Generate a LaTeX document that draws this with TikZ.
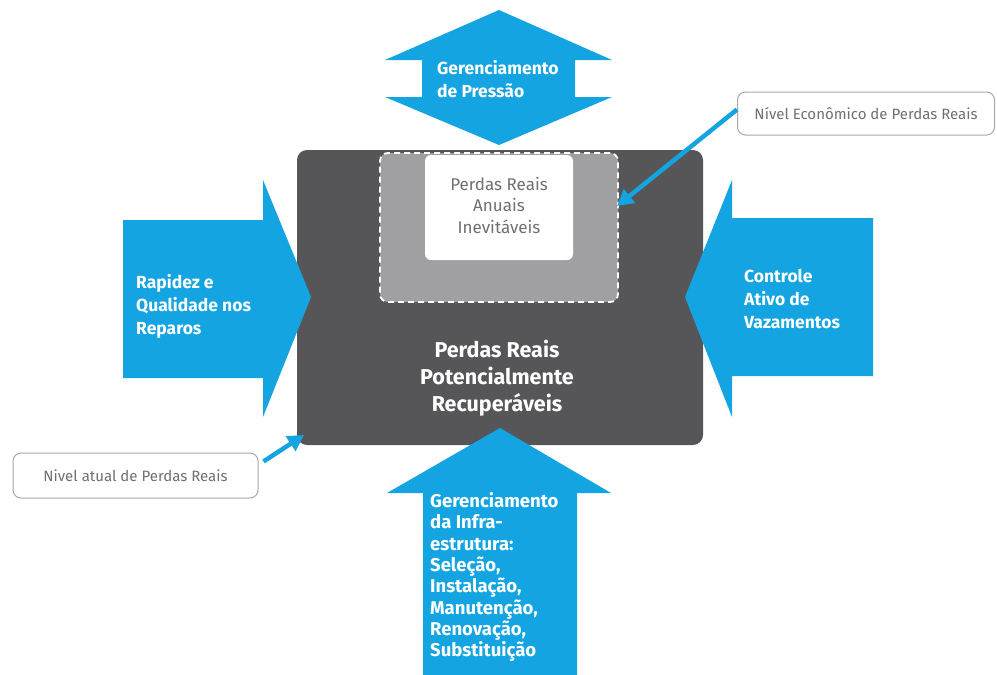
\documentclass[tikz,border=0pt]{standalone}
\usepackage{fontspec}
\setmainfont{Fira Sans}
\usetikzlibrary{positioning, arrows.meta}

\definecolor{azul}{RGB}{20,164,226}
\definecolor{escuro}{RGB}{86,86,88}
\definecolor{cinza}{RGB}{160,160,162}
\definecolor{textocinza}{RGB}{112,112,112}
\definecolor{borda}{RGB}{168,168,168}

\tikzset{
  seta/.style={fill=azul},
  rotulo/.style={text=white, font=\bfseries\fontsize{17.5}{23}\selectfont, align=left, anchor=west, inner sep=0pt},
  caixa/.style={draw=borda, line width=1pt, rounded corners=8pt, fill=white, text=textocinza, font=\fontsize{15}{17}\selectfont},
  ponteiro/.style={draw=azul, line width=4.5pt, -{Triangle[length=16pt,width=17pt]}}
}

\begin{document}
\begin{tikzpicture}[x=1pt, y=-1pt]
    \useasboundingbox (0,0) rectangle (997,675);

    % caixas centrais
    \node[fill=escuro, rounded corners=10pt, minimum width=406, minimum height=295] (real) at (500,297.5) {};
    \node[fill=cinza, draw=white, dash pattern=on 6pt off 4pt, line width=1.8pt, rounded corners=8pt, minimum width=238, minimum height=149] (economia) at (499,227.5) {};
    \node[fill=white, rounded corners=6pt, minimum width=148, minimum height=105] (inevitavel) at (499,207.5) {};
    \node[text=textocinza, align=center, font=\fontsize{17}{21.5}\selectfont] (inevitaveis) at (499,205) {Perdas Reais\\Anuais\\Inevitáveis};
    \node[text=white, align=center, font=\bfseries\fontsize{21.5}{27}\selectfont] (recuperaveis) at (497,378) {Perdas Reais\\Potencialmente\\Recuperáveis};

    % setas azuis
    \fill[seta] (499,10) -- (612,60) -- (575,60) -- (575,97) -- (612,97) -- (499,145)
        -- (385,97) -- (422,97) -- (422,60) -- (385,60) -- cycle;
    \fill[seta] (123,220) -- (263,220) -- (263,180) -- (311,297) -- (263,417) -- (263,378) -- (123,378) -- cycle;
    \fill[seta] (873,218) -- (732,218) -- (732,180) -- (685,297) -- (732,417) -- (732,376) -- (873,376) -- cycle;
    \fill[seta] (500,428) -- (611,493) -- (577,493) -- (577,676) -- (423,676) -- (423,493) -- (387,493) -- cycle;

    \node[rotulo] (pressao) at (437,79) {Gerenciamento\\de Pressão};
    \node[rotulo] (reparos) at (136,306) {Rapidez e\\Qualidade nos\\Reparos};
    \node[rotulo] (vazamentos) at (744,299) {Controle\\Ativo de\\Vazamentos};
    \node[rotulo, font=\bfseries\fontsize{18.5}{21.3}\selectfont] (infra) at (430,577) {Gerenciamento\\da Infra-\\estrutura:\\Seleção,\\Instalação,\\Manutenção,\\Renovação,\\Substituição};

    % chamadas
    \node[caixa, minimum width=257, minimum height=43] (economico) at (866,113.5) {Nível Econômico de Perdas Reais};
    \node[caixa, minimum width=245, minimum height=45] (atual) at (135.5,475.5) {Nivel atual de Perdas Reais};
    \coordinate (alvoeco) at (617,206);
    \coordinate (alvoatual) at (304,435);

    \draw[ponteiro] ([yshift=4]economico.west) -- (alvoeco);
    \draw[ponteiro] ([shift={(5,9)}]atual.north east) -- (alvoatual);
\end{tikzpicture}
\end{document}
